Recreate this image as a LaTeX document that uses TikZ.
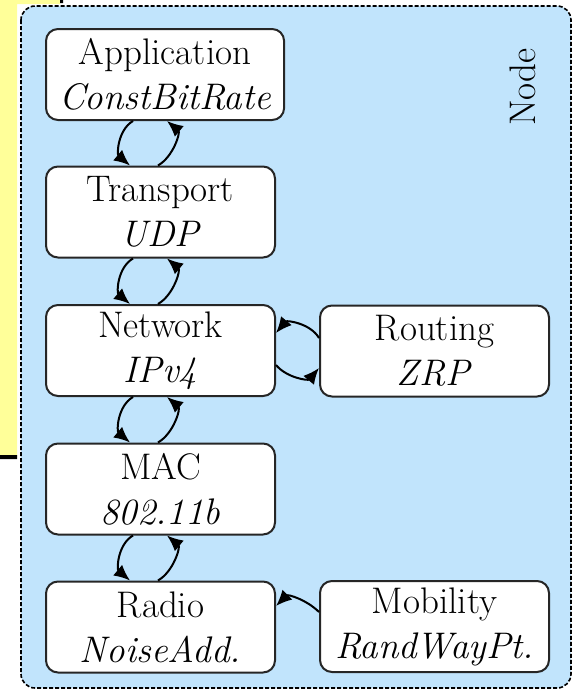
\documentclass[tikz,border=0pt]{standalone}
\usetikzlibrary{arrows.meta}
\definecolor{nodeblue}{RGB}{193,228,252}
\definecolor{slideyellow}{RGB}{255,255,153}

\tikzset{
    layer/.style = {draw=black!85, line width=1pt, fill=white, rounded corners=6pt, anchor=west,
        minimum width=114.5pt, minimum height=45.5pt, inner xsep=6.5pt, inner ysep=2pt,
        align=center, font=\fontsize{18.5}{22.5}\selectfont},
    link/.style = {line width=1pt, -{Latex[length=8pt,width=7pt]}}
}

\begin{document}
\begin{tikzpicture}[x = 0.5pt, y = 0.5pt]
    \useasboundingbox (0,0) rectangle (572,-691);
    \fill[white] (0,0) rectangle (572,-691);
    \fill[slideyellow] (0,0) rectangle (17,-457) (0,0) rectangle (60,-4);
    \fill[black] (0,-455) rectangle (17,-459) (60,0) rectangle (63,-3);
    \draw[dash pattern=on 2pt off 1pt, line width=0.8pt, fill=nodeblue, rounded corners=7pt]
    (21,-6) rectangle (571,-688);
    \node[rotate=90, font=\fontsize{18.5}{22.5}\selectfont] (title) at (523,-87) {Node};
    % protocol stack
    \node[layer] (app) at (45,-74.5) {Application\\\textit{ConstBitRate}};
    \node[layer] (trans) at (45,-212) {Transport\\\textit{UDP}};
    \node[layer] (net) at (45,-350.5) {Network\\\textit{IPv4}};
    \node[layer] (mac) at (45,-489) {MAC\\\textit{802.11b}};
    \node[layer] (radio) at (45,-627) {Radio\\\textit{NoiseAdd.}};
    \node[layer] (routing) at (319,-351) {Routing\\\textit{ZRP}};
    \node[layer] (mobility) at (319,-626.5) {Mobility\\\textit{RandWayPt.}};
    \foreach \up/\down in {app/trans, trans/net, net/mac, mac/radio}
    {
        \draw[link] ([xshift=44pt]\up.south west) to [out=210, in=140] ([xshift=42.5pt]\down.north west);
        \draw[link] ([xshift=56.5pt]\down.north west) to [out=30, in=-40] ([xshift=61pt]\up.south west);
    }
    \draw[link] ([yshift=6.5pt]routing.west) to [out=120, in=50] ([yshift=8.75pt]net.east);
    \draw[link] ([yshift=-7.25pt]net.east) to [out=-50, in=230] ([yshift=-8.5pt]routing.west);
    \draw[link] ([yshift=7.25pt]mobility.west) to [out=135, in=45] ([yshift=10.5pt]radio.east);
\end{tikzpicture}
\end{document}
